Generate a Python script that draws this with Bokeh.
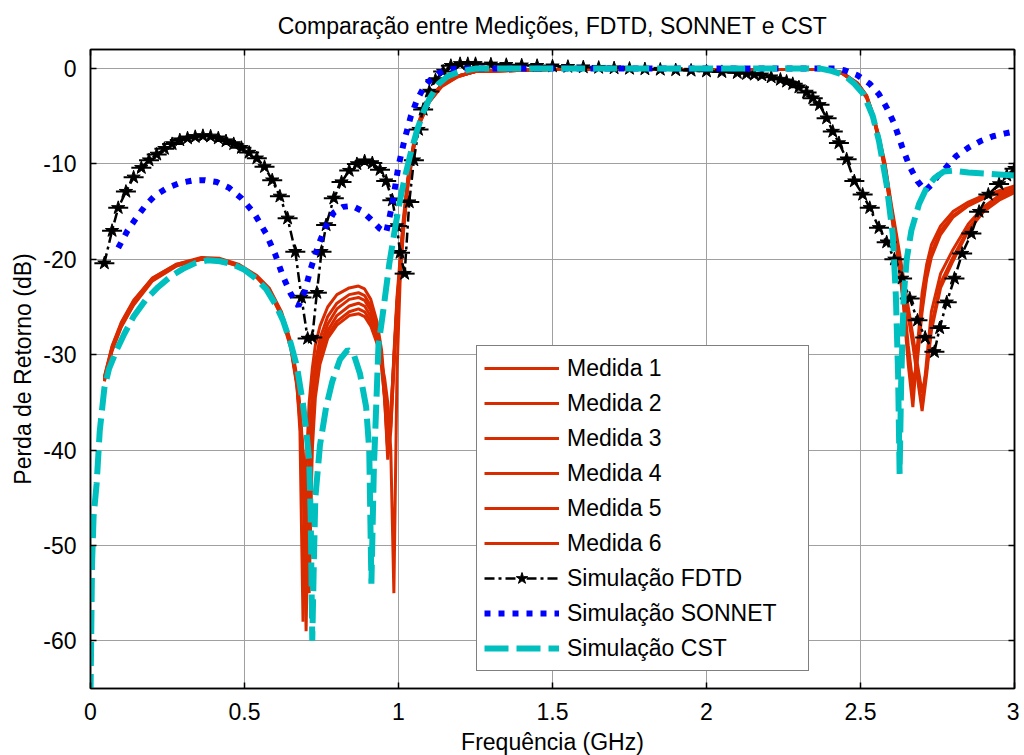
from bokeh.plotting import figure
from bokeh.models import Range1d, FixedTicker, LinearAxis, Legend, LegendItem
from bokeh.embed import file_html
from bokeh.resources import INLINE

# ---------------- data ----------------
TITLE = "Comparação entre Medições, FDTD, SONNET e CST"
X_LABEL = "Frequência (GHz)"
Y_LABEL = "Perda de Retorno (dB)"
X_TICKS = [0, 0.5, 1, 1.5, 2, 2.5, 3]
X_TICK_LABELS = ["0", "0.5", "1", "1.5", "2", "2.5", "3"]
Y_TICKS = [-60, -50, -40, -30, -20, -10, 0]
Y_TICK_LABELS = ["-60", "-50", "-40", "-30", "-20", "-10", "0"]

M_F = [0.045, 0.07, 0.10, 0.14, 0.20, 0.28, 0.36, 0.42, 0.48, 0.54, 0.58, 0.62, 0.65, 0.67,
       0.68, 0.69, 0.70, 0.71, 0.72, 0.73, 0.745, 0.77, 0.80, 0.84, 0.87, 0.89, 0.91, 0.93,
       0.945, 0.955, 0.965, 0.975, 0.985, 0.995, 1.005, 1.015, 1.03, 1.05, 1.07, 1.10, 1.14,
       1.19, 1.25, 1.5, 2.0, 2.3, 2.39, 2.44, 2.49, 2.52, 2.54, 2.56, 2.58, 2.60, 2.62, 2.64,
       2.655, 2.67, 2.685, 2.70, 2.715, 2.73, 2.76, 2.80, 2.85, 2.90, 2.95, 3.0]

MEDIDA_1 = [-32.5, -29.3, -26.8, -24.5, -22.1, -20.6, -19.9, -20.0, -20.6, -21.8, -23.2, -25.8, -29.0, -33.0,
            -38.0, -58.0, -42.0, -35.0, -31.5, -29.0, -27.0, -25.0, -23.7, -23.0, -22.8, -23.1, -24.2, -26.5,
            -29.5, -33.5, -40.0, -37.0, -30.0, -24.0, -20.0, -16.0, -11.5, -7.6, -5.2, -3.2, -1.7,
            -0.8, -0.3, -0.1, -0.1, -0.1, -0.1, -0.5, -1.6, -3.0, -4.9, -7.4, -10.5, -15.0, -19.0, -25.0,
            -31.0, -35.5, -29.0, -23.5, -20.5, -18.5, -16.5, -15.0, -14.0, -13.3, -12.8, -12.3]
MEDIDA_2 = [-32.3, -29.1, -26.6, -24.3, -22.0, -20.5, -19.8, -19.9, -20.5, -21.7, -23.0, -25.5, -28.6, -32.3,
            -35.5, -41.0, -59.0, -40.0, -34.0, -30.8, -28.3, -26.0, -24.6, -23.7, -23.5, -23.8, -24.9, -27.2,
            -30.2, -34.5, -41.0, -38.0, -31.0, -25.0, -21.0, -16.8, -12.0, -8.0, -5.5, -3.4, -1.8,
            -0.8, -0.3, -0.1, -0.1, -0.1, -0.1, -0.4, -1.5, -2.9, -4.8, -7.2, -10.2, -14.5, -18.5, -22.5,
            -25.5, -28.5, -32.0, -35.5, -30.5, -25.5, -21.5, -19.0, -16.3, -14.5, -13.3, -12.5]
MEDIDA_3 = [-32.7, -29.5, -27.0, -24.7, -22.2, -20.6, -20.0, -20.1, -20.7, -21.9, -23.3, -26.0, -29.3, -33.3,
            -37.0, -43.0, -54.0, -41.0, -35.0, -31.8, -29.2, -26.8, -25.2, -24.2, -24.0, -24.3, -25.4, -27.6,
            -30.5, -34.0, -39.0, -36.5, -30.5, -24.5, -20.5, -16.5, -11.8, -7.8, -5.3, -3.3, -1.7,
            -0.8, -0.3, -0.1, -0.1, -0.1, -0.1, -0.5, -1.7, -3.1, -5.0, -7.6, -10.8, -15.3, -19.5, -24.5,
            -30.0, -34.0, -30.0, -25.0, -21.5, -19.3, -17.0, -15.4, -14.3, -13.5, -12.9, -12.4]
MEDIDA_4 = [-32.6, -29.4, -26.9, -24.6, -22.1, -20.6, -19.9, -20.0, -20.6, -21.8, -23.1, -25.7, -28.8, -32.6,
            -35.8, -40.0, -45.0, -52.0, -38.0, -33.0, -30.0, -27.5, -25.9, -24.9, -24.6, -24.9, -26.0, -28.2,
            -31.0, -34.8, -40.0, -37.5, -31.5, -25.5, -21.5, -17.2, -12.3, -8.2, -5.6, -3.5, -1.8,
            -0.9, -0.3, -0.1, -0.1, -0.1, -0.1, -0.4, -1.5, -2.8, -4.7, -7.1, -10.0, -14.2, -18.0, -22.0,
            -25.0, -28.0, -31.0, -34.0, -31.5, -27.0, -22.5, -19.8, -16.8, -14.8, -13.5, -12.8]
MEDIDA_5 = [-32.4, -29.2, -26.7, -24.4, -22.0, -20.5, -19.9, -20.0, -20.6, -21.8, -23.1, -25.7, -28.9, -32.8,
            -36.5, -42.0, -50.0, -42.5, -36.5, -33.0, -30.3, -28.0, -26.5, -25.5, -25.2, -25.5, -26.5, -28.6,
            -31.3, -34.5, -38.0, -36.0, -30.5, -24.8, -20.8, -16.6, -11.9, -7.9, -5.4, -3.3, -1.7,
            -0.8, -0.3, -0.1, -0.1, -0.1, -0.1, -0.5, -1.6, -3.0, -4.9, -7.5, -10.6, -15.2, -19.3, -24.0,
            -29.0, -33.0, -30.5, -25.5, -22.0, -19.8, -17.4, -15.6, -14.4, -13.6, -13.0, -12.6]
MEDIDA_6 = [-32.8, -29.6, -27.1, -24.8, -22.3, -20.7, -20.0, -20.1, -20.7, -21.9, -23.3, -25.9, -29.1, -33.0,
            -36.3, -40.5, -46.0, -55.0, -40.0, -34.5, -31.0, -28.3, -26.9, -25.9, -25.7, -26.0, -27.0, -28.8,
            -30.8, -32.5, -35.0, -40.0, -55.0, -32.0, -22.5, -17.5, -12.5, -8.3, -5.7, -3.5, -1.9,
            -0.9, -0.3, -0.1, -0.1, -0.1, -0.1, -0.4, -1.6, -2.9, -4.8, -7.3, -10.3, -14.6, -18.6, -22.8,
            -26.0, -29.0, -32.5, -35.9, -32.0, -27.5, -23.0, -20.2, -17.0, -15.0, -13.8, -13.0]

FDTD_F = [0.045, 0.07, 0.09, 0.115, 0.14, 0.165, 0.19, 0.215, 0.24, 0.265, 0.29, 0.315, 0.34, 0.365,
          0.39, 0.415, 0.44, 0.465, 0.49, 0.515, 0.54, 0.565, 0.59, 0.615, 0.64, 0.665, 0.685, 0.705,
          0.72, 0.735, 0.75, 0.765, 0.79, 0.815, 0.84, 0.865, 0.89, 0.915, 0.94, 0.96, 0.98, 0.995,
          1.005, 1.02, 1.035, 1.05, 1.065, 1.08, 1.10, 1.12, 1.145, 1.17, 1.2, 1.225, 1.25, 1.3,
          1.35, 1.4, 1.45, 1.5, 1.55, 1.6, 1.65, 1.7, 1.75, 1.8, 1.85, 1.9, 1.95, 2.0, 2.05, 2.1,
          2.13, 2.155, 2.18, 2.21, 2.24, 2.26, 2.28, 2.30, 2.325, 2.345, 2.367, 2.39, 2.41, 2.43,
          2.455, 2.48, 2.507, 2.53, 2.56, 2.585, 2.61, 2.635, 2.66, 2.685, 2.71, 2.74, 2.757, 2.78,
          2.805, 2.83, 2.86, 2.885, 2.915, 2.95, 2.975, 3.0]
FDTD_DB = [-20.4, -17.0, -14.6, -12.9, -11.4, -10.4, -9.6, -9.0, -8.4, -7.9, -7.5, -7.3, -7.15, -7.05,
           -7.1, -7.3, -7.6, -7.9, -8.3, -8.8, -9.4, -10.3, -11.7, -13.4, -15.7, -19.2, -24.0, -28.3,
           -28.2, -23.5, -19.2, -16.4, -13.6, -11.9, -10.7, -10.0, -9.7, -9.9, -10.6, -11.8, -13.8, -16.5,
           -19.3, -21.5, -14.0, -9.6, -6.4, -4.3, -2.4, -1.2, -0.3, 0.3, 0.5, 0.5, 0.5, 0.45,
           0.4, 0.35, 0.3, 0.25, 0.2, 0.15, 0.1, 0.05, 0.0, -0.05, -0.1, -0.15, -0.2, -0.28, -0.35, -0.45,
           -0.55, -0.62, -0.7, -0.9, -1.15, -1.35, -1.6, -1.95, -2.5, -3.1, -3.8, -5.2, -6.6, -7.8,
           -9.5, -11.8, -13.2, -14.6, -16.7, -18.2, -20.0, -22.0, -24.1, -26.4, -28.2, -29.7, -27.2, -24.5,
           -22.0, -19.4, -17.3, -15.0, -13.2, -12.1, -11.2, -10.5]

SONNET_F = [0.09, 0.12, 0.15, 0.18, 0.21, 0.25, 0.29, 0.33, 0.37, 0.41, 0.45, 0.49, 0.53, 0.57,
            0.60, 0.625, 0.65, 0.675, 0.695, 0.715, 0.74, 0.765, 0.79, 0.82, 0.85, 0.88, 0.91, 0.94,
            0.96, 0.98, 1.0, 1.02, 1.04, 1.06, 1.08, 1.10, 1.13, 1.16, 1.2, 1.6, 2.0, 2.42, 2.45,
            2.49, 2.53, 2.56, 2.585, 2.61, 2.635, 2.66, 2.685, 2.71, 2.73, 2.75, 2.78, 2.81, 2.85,
            2.89, 2.93, 2.97, 3.0]
SONNET_DB = [-18.8, -17.0, -15.6, -14.3, -13.3, -12.5, -12.0, -11.75, -11.7, -11.9, -12.5, -13.6, -15.1, -17.3,
             -19.5, -21.8, -23.6, -24.9, -23.4, -21.0, -18.5, -16.5, -15.1, -14.5, -14.4, -14.9, -15.8, -16.8,
             -17.2, -14.2, -10.2, -7.4, -5.0, -3.3, -2.1, -1.3, -0.5, -0.1, 0.0, 0.0, 0.0, 0.0, -0.2,
             -0.7, -1.6, -2.7, -4.1, -5.8, -8.2, -10.3, -11.8, -12.8, -12.2, -11.3, -10.3, -9.2, -8.3,
             -7.6, -7.1, -6.8, -6.6]

CST_F = [0.0, 0.005, 0.01, 0.02, 0.03, 0.045, 0.06, 0.085, 0.11, 0.14, 0.18, 0.22, 0.26, 0.30,
         0.34, 0.38, 0.42, 0.46, 0.50, 0.54, 0.57, 0.60, 0.625, 0.65, 0.67, 0.69, 0.70, 0.71,
         0.715, 0.72, 0.725, 0.73, 0.745, 0.765, 0.785, 0.81, 0.835, 0.855, 0.875, 0.895, 0.905, 0.912,
         0.92, 0.935, 0.95, 0.97, 0.99, 1.005, 1.02, 1.04, 1.06, 1.08, 1.10, 1.13, 1.16, 1.2,
         1.25, 1.6, 2.0, 2.37, 2.40, 2.43, 2.455, 2.48, 2.51, 2.54, 2.56, 2.585, 2.605, 2.615,
         2.622, 2.627, 2.632, 2.64, 2.65, 2.665, 2.69, 2.715, 2.74, 2.77, 2.80, 2.85, 2.90, 2.95, 3.0]
CST_DB = [-66.0, -52.0, -47.0, -43.5, -38.0, -33.5, -31.5, -29.5, -27.8, -26.0, -24.2, -22.9, -21.8, -21.0,
          -20.4, -20.1, -20.2, -20.5, -21.1, -22.1, -23.1, -24.7, -26.4, -28.8, -31.2, -35.2, -37.8, -41.0,
          -47.0, -60.0, -52.0, -45.0, -39.5, -35.5, -32.8, -30.5, -29.5, -30.0, -32.0, -35.5, -40.0, -54.0,
          -42.0, -29.0, -25.5, -20.5, -16.5, -13.8, -11.5, -8.8, -6.5, -4.6, -3.2, -1.6, -0.8, -0.3,
          0.0, 0.0, 0.0, 0.0, -0.2, -0.5, -0.9, -1.6, -2.7, -5.0, -7.6, -12.2, -17.5, -24.0,
          -32.0, -42.5, -33.0, -24.0, -20.0, -17.0, -14.2, -12.5, -11.5, -10.8, -10.7, -10.9, -11.0, -11.1, -11.2]

# ---------------- styling ----------------
FONT = "Liberation Sans"
RED = "#D92B00"
BLUE = "#0000FF"
CYAN = "#00BFBF"

p = figure(frame_width=924, frame_height=639, output_backend="svg", toolbar_location=None,
           x_range=Range1d(0, 3), y_range=Range1d(-65, 2),
           min_border_left=90, min_border_top=48, min_border_bottom=60, min_border_right=5,
           title=TITLE)
p.background_fill_color = "white"
p.border_fill_color = "white"
p.outline_line_color = "black"
p.outline_line_width = 1.5

p.title.text_font = FONT
p.title.text_font_size = "23px"
p.title.text_font_style = "normal"
p.title.align = "center"
p.title.text_color = "black"
p.title.standoff = 21

for ax in (p.xaxis[0], p.yaxis[0]):
    ax.axis_label_text_font = FONT
    ax.axis_label_text_font_size = "23px"
    ax.axis_label_text_font_style = "normal"
    ax.axis_label_text_color = "black"
    ax.major_label_text_font = FONT
    ax.major_label_text_font_size = "23px"
    ax.major_label_text_color = "black"
    ax.axis_line_color = "black"
    ax.axis_line_width = 1.5
    ax.major_tick_in = 6
    ax.major_tick_out = 0
    ax.major_tick_line_width = 1.5
    ax.minor_tick_line_color = None

p.xaxis[0].axis_label = X_LABEL
p.yaxis[0].axis_label = Y_LABEL
p.xaxis[0].ticker = FixedTicker(ticks=X_TICKS)
p.yaxis[0].ticker = FixedTicker(ticks=Y_TICKS)
p.xaxis[0].major_label_overrides = {t: s for t, s in zip(X_TICKS, X_TICK_LABELS)}
p.yaxis[0].major_label_overrides = {t: s for t, s in zip(Y_TICKS, Y_TICK_LABELS)}
p.xaxis[0].major_label_standoff = 14
p.yaxis[0].major_label_standoff = 14
p.xaxis[0].axis_label_standoff = 6
p.yaxis[0].axis_label_standoff = 4

for loc, tk in (("above", X_TICKS), ("right", Y_TICKS)):
    ax = LinearAxis(ticker=FixedTicker(ticks=tk), major_label_text_font_size="0px",
                    major_label_text_color=None,
                    major_label_standoff=0, axis_line_color="black", axis_line_width=1.5,
                    major_tick_in=6, major_tick_out=0, major_tick_line_width=1.5,
                    minor_tick_line_color=None)
    p.add_layout(ax, loc)

p.xgrid.ticker = FixedTicker(ticks=X_TICKS)
p.ygrid.ticker = FixedTicker(ticks=Y_TICKS)
p.grid.grid_line_color = "#A0A0A0"
p.grid.grid_line_width = 1

items = []
for i, m in enumerate([MEDIDA_1, MEDIDA_2, MEDIDA_3, MEDIDA_4, MEDIDA_5, MEDIDA_6]):
    r = p.line(M_F, m, line_color=RED, line_width=3)
    items.append(LegendItem(label=f"Medida {i + 1}", renderers=[r]))

r_fl = p.line(FDTD_F, FDTD_DB, line_color="black", line_width=2.5, line_dash="10 4 3 4")
r_fd = p.scatter(FDTD_F, FDTD_DB, marker="dash", size=20, line_color="black", line_width=2)
r_fm = p.scatter(FDTD_F, FDTD_DB, marker="star", size=14, fill_color="black", line_color="black")
items.append(LegendItem(label="Simulação FDTD", renderers=[r_fl, r_fm]))

r_s = p.line(SONNET_F, SONNET_DB, line_color=BLUE, line_width=6, line_dash="6 8")
items.append(LegendItem(label="Simulação SONNET", renderers=[r_s]))

r_c = p.line(CST_F, CST_DB, line_color=CYAN, line_width=6, line_dash="24 8")
items.append(LegendItem(label="Simulação CST", renderers=[r_c]))

legend = Legend(items=items, location=(386, 17), margin=0, padding=7, spacing=5,
                glyph_width=75, glyph_height=30, label_height=30, label_width=234,
                label_standoff=8, label_text_font=FONT, label_text_font_size="23px",
                label_text_color="black",
                border_line_color="black", border_line_width=1.5,
                background_fill_color="white", background_fill_alpha=1.0)
p.add_layout(legend, "center")

open("out.html", "w").write(file_html(p, INLINE))
